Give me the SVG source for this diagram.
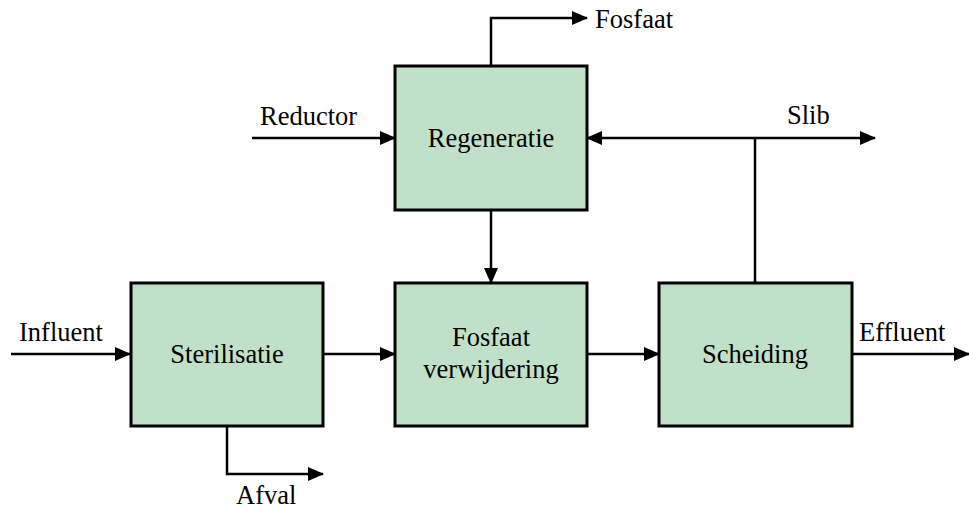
<svg xmlns="http://www.w3.org/2000/svg" width="969" height="510" viewBox="0 0 969 510">
<style>
.box{fill:#c1e0c8;stroke:#000;stroke-width:3}
.t{font-family:"Liberation Serif","Times New Roman",serif;font-size:26.5px;fill:#000}
.c{text-anchor:middle}
.ln{fill:none;stroke:#000;stroke-width:2.5}
</style>
<defs>
<marker id="ah" markerWidth="16" markerHeight="14" refX="15" refY="7" orient="auto" markerUnits="userSpaceOnUse">
<path d="M0,0 L16,7 L0,14 Z" fill="#000"/>
</marker>
</defs>
<g id="connectors">
<path class="ln" d="M491,66 V18 H587" marker-end="url(#ah)"/>
<path class="ln" d="M252,138 H395" marker-end="url(#ah)"/>
<path class="ln" d="M755,138 H587" marker-end="url(#ah)"/>
<path class="ln" d="M755,138 H875" marker-end="url(#ah)"/>
<path class="ln" d="M755,138 V283"/>
<path class="ln" d="M491,210 V283" marker-end="url(#ah)"/>
<path class="ln" d="M11,354 H130" marker-end="url(#ah)"/>
<path class="ln" d="M323,354 H395" marker-end="url(#ah)"/>
<path class="ln" d="M587,354 H659" marker-end="url(#ah)"/>
<path class="ln" d="M852,354 H969" marker-end="url(#ah)"/>
<path class="ln" d="M227,426 V474 H323" marker-end="url(#ah)"/>
</g>
<g id="regeneratie"><rect class="box" x="395" y="66" width="192" height="144"/><text class="t c" x="491" y="147">Regeneratie</text></g>
<g id="sterilisatie"><rect class="box" x="131" y="283" width="192" height="143"/><text class="t c" x="227" y="363">Sterilisatie</text></g>
<g id="fosfaatverwijdering"><rect class="box" x="395" y="283" width="192" height="143"/><text class="t c" x="491" y="346">Fosfaat</text><text class="t c" x="491" y="378">verwijdering</text></g>
<g id="scheiding"><rect class="box" x="659" y="283" width="193" height="143"/><text class="t c" x="755" y="363">Scheiding</text></g>
<g id="labels">
<text class="t" x="595" y="28">Fosfaat</text>
<text class="t" x="260" y="125">Reductor</text>
<text class="t" x="787" y="124">Slib</text>
<text class="t" x="19" y="341">Influent</text>
<text class="t" x="859" y="341">Effluent</text>
<text class="t" x="236" y="504">Afval</text>
</g>
</svg>
